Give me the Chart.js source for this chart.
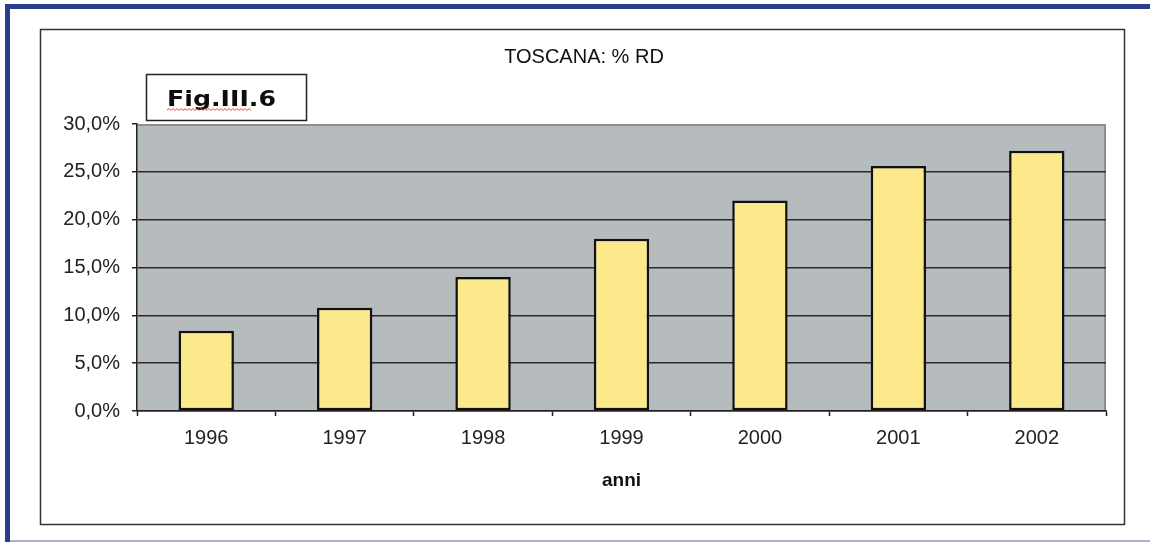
<!DOCTYPE html>
<html>
<head>
<meta charset="utf-8">
<title>TOSCANA: % RD</title>
<script src="https://cdn.jsdelivr.net/npm/chart.js@4/dist/chart.umd.min.js"></script>
<style>
  html, body { margin: 0; padding: 0; background: #ffffff; }
  canvas { display: block; }
</style>
</head>
<body>
<canvas id="chart" width="1150" height="542"></canvas>
<script>
// Raccolta differenziata in Toscana, quota percentuale per anno
const categories = ['1996', '1997', '1998', '1999', '2000', '2001', '2002'];
const rdPercent = [8.4, 10.8, 14.0, 18.0, 22.0, 25.6, 27.2];
const yTickValues = [0, 5, 10, 15, 20, 25, 30];

const chartTitle = 'TOSCANA: % RD';
const xAxisTitle = 'anni';
const figureTag = 'Fig.III.6';

const TEXT_FONT = '"Liberation Sans", Arial, sans-serif';

// Page frame, plot background, title, axis title and figure tag
const decorations = {
  id: 'decorations',
  beforeDraw(chart) {
    const ctx = chart.ctx;
    const a = chart.chartArea;
    ctx.save();
    ctx.fillStyle = '#ffffff';
    ctx.fillRect(0, 0, chart.width, chart.height);

    // outer blue frame (top and left), thin line at the bottom
    ctx.fillStyle = '#2b3d8f';
    ctx.fillRect(5, 4, chart.width - 5, 5);
    ctx.fillRect(5, 4, 5, chart.height - 4);
    ctx.fillStyle = '#a9afcf';
    ctx.fillRect(10, chart.height - 2, chart.width - 10, 2);

    // inner chart frame
    ctx.strokeStyle = '#333333';
    ctx.lineWidth = 1.5;
    ctx.strokeRect(40.5, 29.5, 1084, 495);

    // plot background
    ctx.fillStyle = '#b6bbbe';
    ctx.fillRect(a.left, a.top, a.right - a.left, a.bottom - a.top);
    ctx.strokeStyle = '#8a8f92';
    ctx.lineWidth = 2;
    ctx.beginPath();
    ctx.moveTo(a.left, a.top + 1);
    ctx.lineTo(a.right - 1, a.top + 1);
    ctx.lineTo(a.right - 1, a.bottom);
    ctx.stroke();
    ctx.restore();
  },
  afterDraw(chart) {
    const ctx = chart.ctx;
    const a = chart.chartArea;
    ctx.save();
    ctx.fillStyle = '#111111';

    // chart title
    ctx.font = '20px ' + TEXT_FONT;
    ctx.textAlign = 'center';
    ctx.textBaseline = 'alphabetic';
    ctx.fillText(chartTitle, 584, 63);

    // x axis title
    ctx.font = 'bold 19px ' + TEXT_FONT;
    ctx.fillText(xAxisTitle, (a.left + a.right) / 2, 486);

    // figure tag box
    ctx.fillStyle = '#ffffff';
    ctx.fillRect(146, 74, 161, 47);
    ctx.strokeStyle = '#222222';
    ctx.lineWidth = 1.5;
    ctx.strokeRect(146.5, 74.5, 160, 46);

    ctx.fillStyle = '#0d0d0d';
    ctx.font = 'bold 21px "DejaVu Sans", Verdana, sans-serif';
    ctx.textAlign = 'left';
    const w = ctx.measureText(figureTag).width;
    const sx = 109 / w;
    ctx.save();
    ctx.translate(167, 106);
    ctx.scale(sx, 1);
    ctx.fillText(figureTag, 0, 0);
    ctx.restore();

    // wavy proofing underline
    ctx.strokeStyle = '#e0483a';
    ctx.lineWidth = 1;
    ctx.beginPath();
    let up = true;
    ctx.moveTo(167, 110);
    for (let x = 169; x <= 252; x += 2) {
      ctx.lineTo(x, up ? 108.5 : 110.5);
      up = !up;
    }
    ctx.stroke();
    ctx.restore();
  }
};

new Chart(document.getElementById('chart'), {
  type: 'bar',
  data: {
    labels: categories,
    datasets: [{
      label: '% RD',
      data: rdPercent,
      backgroundColor: '#fbe98c',
      borderColor: '#111111',
      borderWidth: 2.5,
      borderSkipped: false,
      barPercentage: 0.4,
      categoryPercentage: 1.0
    }]
  },
  options: {
    responsive: false,
    animation: false,
    layout: { padding: { left: 0, top: 124, right: 44, bottom: 0 } },
    plugins: {
      legend: { display: false },
      title: { display: false },
      tooltip: { enabled: false }
    },
    scales: {
      x: {
        offset: true,
        afterFit(scale) { scale.height = 131; },
        grid: {
          offset: true,
          drawOnChartArea: false,
          drawTicks: true,
          tickLength: 5,
          tickColor: '#222222',
          tickWidth: 1.5
        },
        border: { display: true, color: '#222222', width: 1.5 },
        ticks: {
          color: '#222222',
          padding: 10,
          font: { family: TEXT_FONT, size: 20 }
        }
      },
      y: {
        min: 0,
        max: 30,
        afterFit(scale) { scale.width = 137; },
        afterBuildTicks(scale) {
          scale.ticks = yTickValues.map(v => ({ value: v }));
        },
        grid: {
          color: ctx => (ctx.tick && ctx.tick.value === 30) ? 'rgba(0,0,0,0)' : '#2a2a2a',
          lineWidth: 1.5,
          drawTicks: true,
          tickLength: 5,
          tickColor: '#222222',
          tickWidth: 1.5
        },
        border: { display: true, color: '#222222', width: 1.5 },
        ticks: {
          color: '#222222',
          padding: 12,
          font: { family: TEXT_FONT, size: 20 },
          callback: v => v.toFixed(1).replace('.', ',') + '%'
        }
      }
    }
  },
  plugins: [decorations]
});
</script>
</body>
</html>
